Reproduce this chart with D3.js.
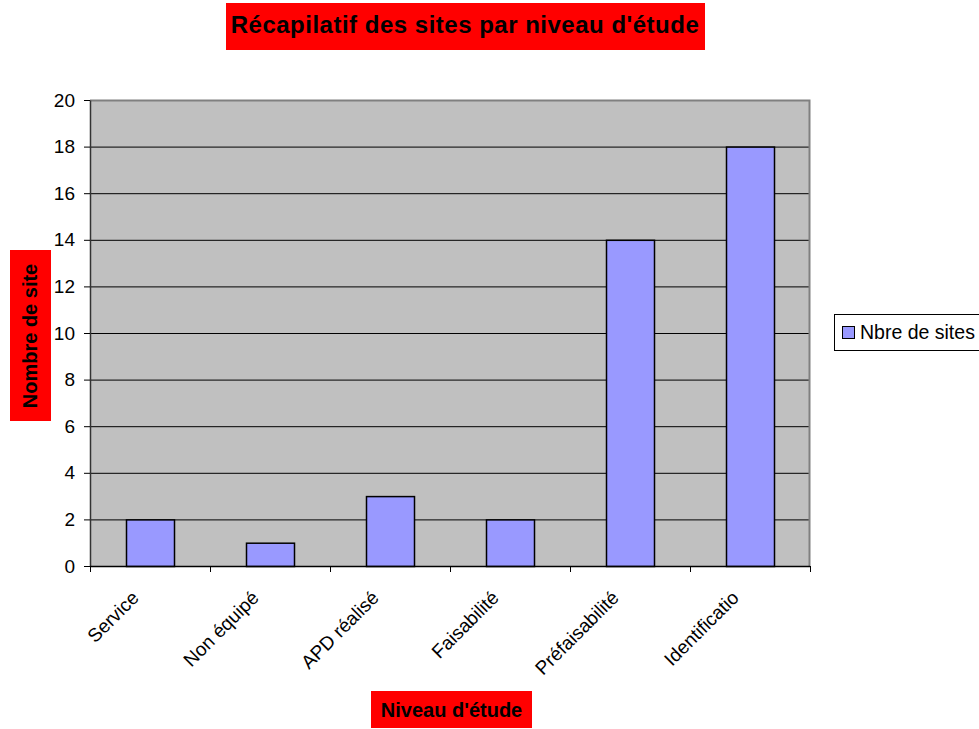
<!DOCTYPE html>
<html>
<head>
<meta charset="utf-8">
<script src="https://cdn.jsdelivr.net/npm/d3@7"></script>
<style>
  html, body { margin: 0; padding: 0; background: #ffffff; }
  svg { display: block; font-family: "Liberation Sans", Arial, sans-serif; }
</style>
</head>
<body>
<svg id="chart" width="979" height="729"></svg>
<script>
// Niveaux d'étude et nombre de sites par niveau
const categories = ["Service", "Non équipé", "APD réalisé", "Faisabilité", "Préfaisabilité", "Identificatio"];
const siteCounts = [2, 1, 3, 2, 14, 18];
const yTicks = [0, 2, 4, 6, 8, 10, 12, 14, 16, 18, 20];
const seriesName = "Nbre de sites";
const titleText = "Récapilatif des sites par niveau d'étude";
const yTitleText = "Nombre de site";
const xTitleText = "Niveau d'étude";

const svg = d3.select("#chart");
const plot = { left: 90, right: 810, top: 100, bottom: 566 };

const x = d3.scaleBand()
  .domain(categories)
  .range([plot.left, plot.right])
  .paddingInner(0)
  .paddingOuter(0);

const y = d3.scaleLinear()
  .domain([0, 20])
  .range([plot.bottom, plot.top]);

// Plot background
svg.append("rect")
  .attr("x", plot.left).attr("y", plot.top)
  .attr("width", plot.right - plot.left)
  .attr("height", plot.bottom - plot.top)
  .attr("fill", "#c0c0c0");

// Horizontal gridlines
svg.append("g")
  .selectAll("line")
  .data(yTicks.filter(d => d > 0 && d < 20))
  .join("line")
  .attr("x1", plot.left).attr("x2", plot.right)
  .attr("y1", d => y(d) + 0.5).attr("y2", d => y(d) + 0.5)
  .attr("stroke", "#000").attr("stroke-width", 1);

// Plot frame (top and right)
svg.append("path")
  .attr("d", `M${plot.left},${plot.top + 0.5}H${plot.right - 0.5}V${plot.bottom}`)
  .attr("fill", "none").attr("stroke", "#808080").attr("stroke-width", 2);

// Bars
const barW = x.bandwidth() * 0.4;
svg.append("g")
  .selectAll("rect")
  .data(categories.map((c, i) => ({ c, v: siteCounts[i] })))
  .join("rect")
  .attr("x", d => x(d.c) + (x.bandwidth() - barW) / 2 + 0.5)
  .attr("y", d => y(d.v) + 0.5)
  .attr("width", barW)
  .attr("height", d => y(0) - y(d.v))
  .attr("fill", "#9999ff")
  .attr("stroke", "#000")
  .attr("stroke-width", 1.5);

// Y axis
const yAxis = svg.append("g")
  .attr("transform", `translate(${plot.left},0)`)
  .call(d3.axisLeft(y).tickValues(yTicks).tickSize(6).tickPadding(9).tickSizeOuter(0));
yAxis.select(".domain").attr("stroke", "#333").attr("stroke-width", 1.5);
yAxis.selectAll(".tick line").attr("stroke", "#000");
yAxis.selectAll(".tick text")
  .attr("font-size", 19)
  .attr("font-family", "Liberation Sans, Arial, sans-serif")
  .attr("fill", "#000");

// X axis: ticks at category boundaries
const xAxisG = svg.append("g").attr("transform", `translate(0,${plot.bottom})`);
xAxisG.append("line")
  .attr("x1", plot.left).attr("x2", plot.right)
  .attr("y1", 0.5).attr("y2", 0.5)
  .attr("stroke", "#000").attr("stroke-width", 1.5);
const boundaries = categories.map(c => x(c)).concat([x.range()[1]]);
xAxisG.selectAll("line.tick")
  .data(boundaries)
  .join("line")
  .attr("class", "tick")
  .attr("x1", d => d + 0.5).attr("x2", d => d + 0.5)
  .attr("y1", 0).attr("y2", 6)
  .attr("stroke", "#000");

// Rotated category labels
xAxisG.selectAll("text.cat")
  .data(categories)
  .join("text")
  .attr("class", "cat")
  .attr("transform", d => `translate(${x(d) + x.bandwidth() / 2 - 10},${33}) rotate(-45)`)
  .attr("text-anchor", "end")
  .attr("font-size", 19)
  .attr("fill", "#000")
  .text(d => d);

// Title
const titleG = svg.append("g");
titleG.append("rect")
  .attr("x", 226).attr("y", 3).attr("width", 479).attr("height", 47)
  .attr("fill", "#ff0000");
titleG.append("text")
  .attr("x", 465).attr("y", 33)
  .attr("text-anchor", "middle")
  .attr("font-size", 24).attr("font-weight", "bold")
  .attr("letter-spacing", 0.5)
  .attr("fill", "#000")
  .text(titleText);

// Y axis title
const yt = svg.append("g");
yt.append("rect")
  .attr("x", 10).attr("y", 250).attr("width", 41).attr("height", 171)
  .attr("fill", "#ff0000");
yt.append("text")
  .attr("transform", "translate(37,336) rotate(-90)")
  .attr("text-anchor", "middle")
  .attr("font-size", 20).attr("font-weight", "bold")
  .attr("fill", "#000")
  .text(yTitleText);

// X axis title
const xt = svg.append("g");
xt.append("rect")
  .attr("x", 371).attr("y", 691).attr("width", 161).attr("height", 37)
  .attr("fill", "#ff0000");
xt.append("text")
  .attr("x", 451.5).attr("y", 717)
  .attr("text-anchor", "middle")
  .attr("font-size", 20).attr("font-weight", "bold")
  .attr("fill", "#000")
  .text(xTitleText);

// Legend
const lg = svg.append("g");
lg.append("rect")
  .attr("x", 834.5).attr("y", 314.5).attr("width", 160).attr("height", 36)
  .attr("fill", "#fff").attr("stroke", "#000").attr("stroke-width", 1);
lg.append("rect")
  .attr("x", 842.5).attr("y", 326.5).attr("width", 12).attr("height", 12)
  .attr("fill", "#9999ff").attr("stroke", "#000").attr("stroke-width", 1);
lg.append("text")
  .attr("x", 860).attr("y", 339)
  .attr("font-size", 19.5)
  .attr("fill", "#000")
  .text(seriesName);
</script>
</body>
</html>
